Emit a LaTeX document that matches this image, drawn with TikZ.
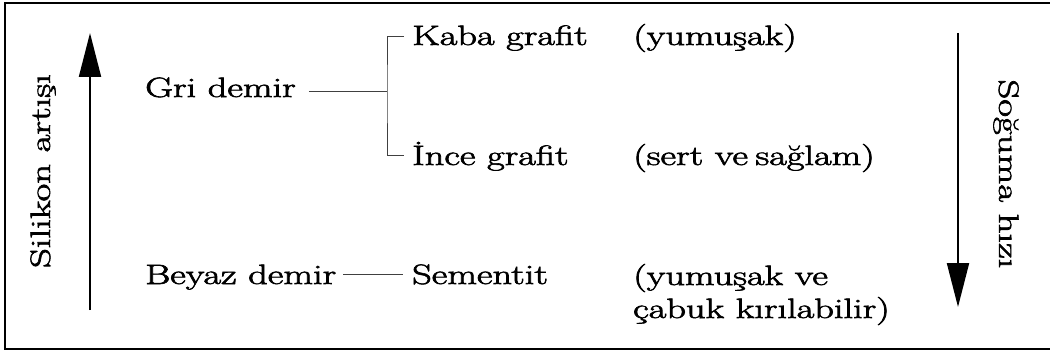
\documentclass[tikz,border=0pt]{standalone}
\usepackage{fontspec}
\setmainfont{Latin Modern Roman}[RawFeature={embolden=2}]
\usetikzlibrary{arrows.meta,calc}
% wide serif lettering
\newcommand\widetext[1]{\scalebox{1.37}[1]{#1}}
\newcommand\sidetext[1]{\scalebox{1.38}[1]{#1}}
\tikzset{
  lbl/.style={inner sep=0pt, anchor=base west, font=\fontsize{28}{33}\selectfont},
  sidelbl/.style={inner sep=0pt, font=\fontsize{28}{33}\selectfont},
  link/.style={draw=black!75, line width=1pt},
  axis/.style={draw=black, line width=2pt, -{Triangle[length=44pt,width=22pt]}},
  frame/.style={draw=black, line width=2pt},
}
\begin{document}
\begin{tikzpicture}[x=1pt,y=-1pt]
  \useasboundingbox (0,0) rectangle (1050,353);
  \fill[white] (0,0) rectangle (1050,353);
  % open frame: top, left and bottom edges
  \draw[frame] (1050,3) -- (5,3) -- (5,349) -- (1050,349);

  % cast iron types
  \node[lbl] (gri) at (145,97) {\widetext{Gri demir}};
  \node[lbl] (beyaz) at (145,284) {\widetext{Beyaz demir}};
  % microstructures
  \node[lbl] (kaba) at (412,45) {\widetext{Kaba grafit}};
  \node[lbl] (ince) at (412,165) {\widetext{İnce grafit}};
  \node[lbl] (sementit) at (412,284) {\widetext{Sementit}};
  % properties
  \node[lbl] (p1) at (633,45) {\widetext{(yumuşak)}};
  \node[lbl] (p2) at (633,165) {\widetext{(sert ve\hspace{-3pt} sağlam)}};
  \node[lbl, align=left] (p3) at (633,318) {\widetext{(yumuşak ve}\\\widetext{çabuk kırılabilir)}};

  % connectors
  \coordinate (jn) at (387,92);
  \draw[link] ($(gri.base east)+(13,-5)$) -- (jn);
  \draw[link] ($(kaba.base west)+(-8,-8)$) -| (jn) |- ($(ince.base west)+(-8,-10)$);
  \draw[link] ($(beyaz.base east)+(7,-10)$) -- ($(sementit.base west)+(-9,-10)$);

  % side axes
  \coordinate (siLow) at (90,310);
  \coordinate (siHigh) at (90,33);
  \draw[axis] (siLow) -- (siHigh);
  \node[sidelbl, rotate=90] (silabel) at (43,171) {\sidetext{Silikon artışı}};

  \coordinate (coolTop) at (958,33);
  \coordinate (coolLow) at (958,307);
  \draw[axis] (coolTop) -- (coolLow);
  \node[sidelbl, rotate=-90] (coollabel) at (1006,174) {\sidetext{Soğuma hızı}};
\end{tikzpicture}
\end{document}
